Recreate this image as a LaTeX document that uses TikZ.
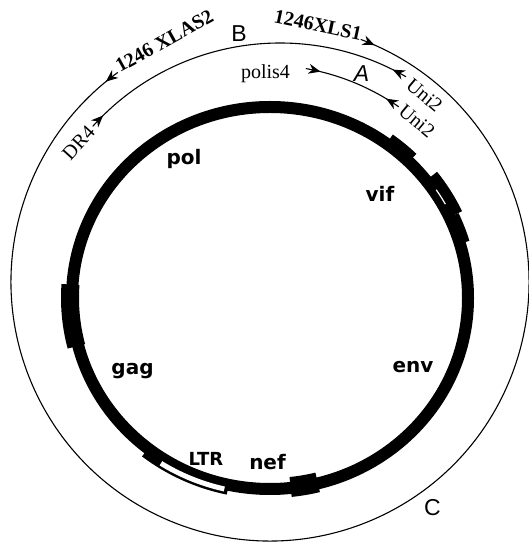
\documentclass[tikz,border=0pt]{standalone}
\usepackage{fontspec}
\setmainfont{Liberation Serif}
\newfontfamily\genefont{DejaVu Sans}
\newfontfamily\prodfont{Liberation Sans}
\usetikzlibrary{arrows.meta,calc,decorations.markings}

\begin{document}
\begin{tikzpicture}[
x=1pt, y=1pt,
primer/.style={font=\fontsize{20}{24}\selectfont, inner sep=0pt},
primerB/.style={font=\fontsize{20}{24}\selectfont\bfseries, inner sep=0pt},
gene/.style={font=\genefont\fontsize{20}{24}\selectfont\bfseries, inner sep=0pt},
product/.style={font=\prodfont\fontsize{23}{27}\selectfont, inner sep=0pt},
pcr/.style={line width=1.1pt, postaction={decorate}, decoration={markings,
  mark=at position 15pt with {\arrow{Stealth[length=12pt,width=10pt]}},
  mark=at position -15pt with {\arrowreversed{Stealth[length=12pt,width=10pt]}}}},
ring/.style={line width=12pt}
]
\fill[white] (0,0) rectangle (529,543);
\useasboundingbox (0,0) rectangle (529,543);

% centres of the circles
\coordinate (ctrC) at (270,261);
\coordinate (ctrB) at (280,248);
\coordinate (ctrA) at (265,243);
\coordinate (ctrG) at (270,245);

% PCR products
\draw[pcr] ($(ctrC)+(69.5:259)$) arc[start angle=69.5, end angle=-234, radius=259];
\draw[pcr] ($(ctrB)+(138:252)$) arc[start angle=138, end angle=60, radius=252];
\draw[pcr] ($(ctrA)+(80:235)$) arc[start angle=80, end angle=55.3, radius=235];

% genome ring
\draw[ring] (ctrG) ellipse [x radius=198, y radius=191];
\foreach \ta/\tb/\off/\bw in {176/194.5/2/18, 45.5/54/5/12, 25/38/8/12, 16.5/25/4/12, 276/284/-1/20}{
  \pgfmathsetmacro{\bumprx}{198+\off}
  \pgfmathsetmacro{\bumpry}{191+\off}
  \draw[line width=\bw pt] ($(ctrG)+({\bumprx*cos(\ta)},{\bumpry*sin(\ta)})$) arc[start angle=\ta, end angle=\tb, x radius=\bumprx, y radius=\bumpry];
}
\draw[white, line width=1.2pt] ($(ctrG)+({200.5*cos(29)},{193.5*sin(29)})$) arc[start angle=29, end angle=34, x radius=200.5, y radius=193.5];

% LTR box
\draw[line width=9pt] ($(ctrG)+({203.5*cos(232)},{196.5*sin(232)})$) arc[start angle=232, end angle=258, x radius=203.5, y radius=196.5];
\draw[white, line width=5pt] ($(ctrG)+({203*cos(237.5)},{196*sin(237.5)})$) arc[start angle=237.5, end angle=257, x radius=203, y radius=196];

% primers
\node[primerB, rotate=29, anchor=base west] (xlas2) at (120,470) {1246 XLAS2};
\node[primerB, rotate=-12, anchor=base west] (xls1) at (273,521) {1246XLS1};
\node[primer, rotate=48] (dr4) at (78.5,400) {DR4};
\node[primer] (polis4) at (265.5,469.5) {polis4};
\node[primer, rotate=-40] (uniB) at (424.5,447.5) {Uni2};
\node[primer, rotate=-40] (uniA) at (417,422) {Uni2};

% products
\node[product, font=\prodfont\itshape\fontsize{23}{27}\selectfont] (prodA) at (361.5,469) {A};
\node[product] (prodB) at (239,509.5) {B};
\node[product] (prodC) at (432.5,35) {C};

% genes
\node[gene] (pol) at (184,384.5) {pol};
\node[gene] (vif) at (380,349) {vif};
\node[gene] (gag) at (132.5,172) {gag};
\node[gene] (env) at (413,175.5) {env};
\node[gene] (nef) at (267.5,81) {nef};
\node[gene, font=\genefont\fontsize{18}{22}\selectfont\bfseries] (ltr) at (206,84.5) {LTR};
\end{tikzpicture}
\end{document}
